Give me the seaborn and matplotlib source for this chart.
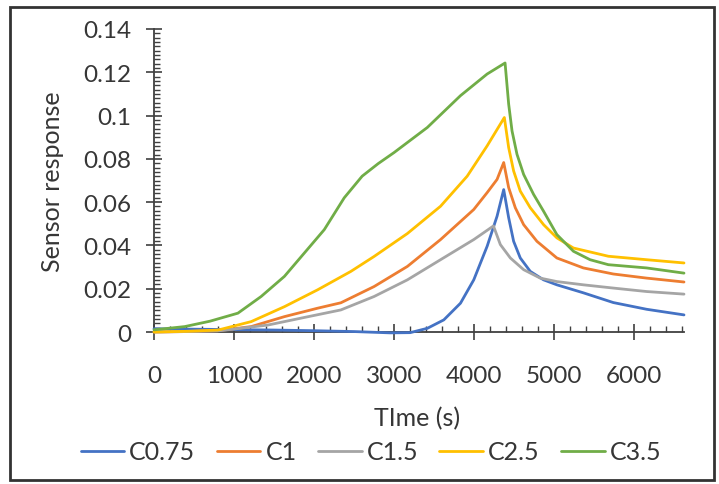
import matplotlib
matplotlib.use("Agg")
import matplotlib.pyplot as plt
from matplotlib.ticker import MultipleLocator, FixedLocator, FixedFormatter
from matplotlib.patches import Rectangle
import seaborn as sns
import pandas as pd

# ---- data ----
series_names = ["C0.75", "C1", "C1.5", "C2.5", "C3.5"]

c075_t = [0, 500, 1000, 1500, 2000, 2500, 2950, 3200, 3414, 3620, 3828, 3994, 4161, 4285, 4368,
          4430, 4492, 4575, 4700, 4866, 5032, 5363, 5737, 6153, 6620]
c075_y = [0.0015, 0.0013, 0.0011, 0.0009, 0.0006, 0.0002, -0.0004, -0.0003, 0.0017, 0.0056, 0.0133,
          0.0241, 0.0396, 0.0535, 0.0658, 0.0528, 0.0419, 0.0342, 0.028, 0.0241, 0.0218, 0.0181,
          0.0136, 0.0105, 0.0079]

c1_t = [0, 400, 800, 1214, 1629, 2044, 2334, 2749, 3165, 3579, 3994, 4161, 4285, 4368,
        4430, 4513, 4617, 4783, 5032, 5363, 5737, 6153, 6620]
c1_y = [0.0, 0.0002, 0.0006, 0.0025, 0.0071, 0.011, 0.0135, 0.021, 0.0303, 0.0427, 0.0566, 0.0644,
        0.0705, 0.0783, 0.0667, 0.0574, 0.0496, 0.0419, 0.0342, 0.0296, 0.0268, 0.0249, 0.0231]

c15_t = [0, 400, 800, 1421, 1836, 2334, 2749, 3165, 3579, 3994, 4240,
         4326, 4451, 4617, 4824, 5032, 5363, 5737, 6153, 6620]
c15_y = [0.0, 0.0002, 0.0005, 0.0032, 0.0064, 0.0102, 0.0164, 0.0241, 0.0334, 0.0427, 0.0490,
         0.0404, 0.0342, 0.0288, 0.0249, 0.0233, 0.0218, 0.0203, 0.0187, 0.0175]

c25_t = [0, 400, 800, 1214, 1629, 2044, 2459, 2749, 3165, 3579, 3912, 4161, 4376,
         4430, 4492, 4575, 4700, 4866, 5032, 5239, 5675, 6153, 6620]
c25_y = [0.0, 0.0003, 0.0009, 0.0048, 0.0117, 0.0195, 0.028, 0.0349, 0.0455, 0.0581, 0.072, 0.086,
         0.0991, 0.0852, 0.0744, 0.0651, 0.0574, 0.0496, 0.0435, 0.0388, 0.035, 0.0334, 0.0319]

c35_t = [0, 384, 700, 1048, 1338, 1629, 1878, 2127, 2376, 2600, 2800, 2998, 3414, 3828, 4161, 4385,
         4430, 4472, 4534, 4617, 4741, 4866, 5032, 5239, 5447, 5675, 6153, 6620]
c35_y = [0.001, 0.0025, 0.005, 0.0087, 0.0164, 0.0257, 0.0365, 0.0473, 0.062, 0.072, 0.0778, 0.0829,
         0.0945, 0.1092, 0.1192, 0.1243, 0.1053, 0.0929, 0.0821, 0.0728, 0.0636, 0.0558, 0.045,
         0.0373, 0.0334, 0.0311, 0.0296, 0.0272]

x_ticks = [0, 1000, 2000, 3000, 4000, 5000, 6000]
x_tick_labels = ["0", "1000", "2000", "3000", "4000", "5000", "6000"]
y_ticks = [0, 0.02, 0.04, 0.06, 0.08, 0.1, 0.12, 0.14]
y_tick_labels = ["0", "0.02", "0.04", "0.06", "0.08", "0.1", "0.12", "0.14"]

x_label = "TIme (s)"
y_label = "Sensor response"

colors = ["#4472C4", "#ED7D31", "#A5A5A5", "#FFC000", "#70AD47"]

# ---- build long-form table ----
frames = []
for name, t, y in zip(series_names,
                      [c075_t, c1_t, c15_t, c25_t, c35_t],
                      [c075_y, c1_y, c15_y, c25_y, c35_y]):
    frames.append(pd.DataFrame({"time": t, "response": y, "series": name}))
df = pd.concat(frames, ignore_index=True)

sns.set_theme(style="white")
plt.rcParams["font.family"] = ["Lato", "DejaVu Sans"]
text_color = "#363636"
axis_color = "#404040"

W, H = 719, 485
fig = plt.figure(figsize=(W / 100, H / 100), dpi=100)
fig.patch.set_facecolor("white")

left, right, top, bottom = 154, 684, 30, 333
ax = fig.add_axes([left / W, 1 - bottom / H, (right - left) / W, (bottom - top) / H])

sns.lineplot(data=df, x="time", y="response", hue="series", hue_order=series_names,
             palette=colors, linewidth=2.0, sort=False, estimator=None, ax=ax)
for ln in ax.get_lines():
    ln.set_clip_on(False)
    ln.set_zorder(4)
    ln.set_solid_joinstyle("round")

ax.set_xlim(0, 6620)
ax.set_ylim(0, 0.14)
for s in ["top", "right"]:
    ax.spines[s].set_visible(False)
for s in ["left", "bottom"]:
    ax.spines[s].set_color(axis_color)
    ax.spines[s].set_linewidth(1.3)

ax.xaxis.set_major_locator(FixedLocator(x_ticks))
ax.xaxis.set_major_formatter(FixedFormatter(x_tick_labels))
ax.yaxis.set_major_locator(FixedLocator(y_ticks))
ax.yaxis.set_major_formatter(FixedFormatter(y_tick_labels))
ax.xaxis.set_minor_locator(MultipleLocator(200))
ax.yaxis.set_minor_locator(MultipleLocator(0.002))

ax.tick_params(axis="both", which="major", direction="inout", length=11, width=1.2,
               color=axis_color, labelcolor=text_color, labelsize=17.5)
ax.tick_params(axis="x", which="major", pad=18)
ax.tick_params(axis="y", which="major", pad=11)
ax.tick_params(axis="both", which="minor", direction="in", length=4.5, width=1.0, color=axis_color)
ax.tick_params(bottom=True, left=True, which="both")

ax.set_xlabel(x_label, fontsize=18, color=text_color)
ax.set_ylabel(y_label, fontsize=18, color=text_color)
ax.xaxis.set_label_coords(0.497, -0.245)
ax.yaxis.set_label_coords(-0.17, 0.5)

sns.move_legend(ax, "center", bbox_to_anchor=(0.516, 0.066), bbox_transform=fig.transFigure,
                ncol=5, frameon=False, title=None, fontsize=18, handlelength=1.75,
                handletextpad=0.2, columnspacing=0.85, borderpad=0.2)
for txt in ax.get_legend().get_texts():
    txt.set_color(text_color)
for line in ax.get_legend().get_lines():
    line.set_linewidth(2.0)

fig.patches.append(Rectangle((10 / W, 4 / H), 704 / W, 473 / H, transform=fig.transFigure,
                             fill=False, edgecolor="#333333", linewidth=2))

fig.savefig("out.png", dpi=100)
